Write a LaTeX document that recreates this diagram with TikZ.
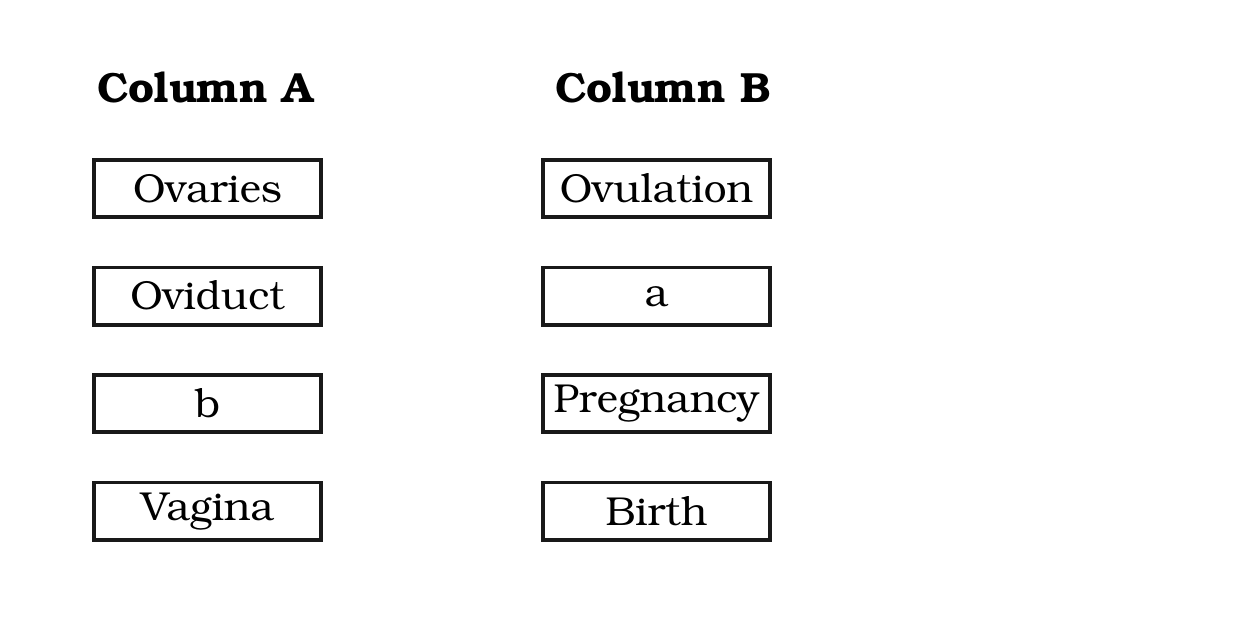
\documentclass[tikz,border=0pt]{standalone}
\usepackage[T1]{fontenc}
\usepackage{bookman}
\usetikzlibrary{positioning}

\begin{document}
\begin{tikzpicture} [
    line width=0.075cm,
    node distance=0.93cm and 4.36cm,
  ]

  \tikzstyle{itembox} = [
    rectangle,
    draw=black!90,
    minimum width=4.545cm,
    minimum height=1.145cm,
    inner sep=0pt,
    font=\fontsize{23}{28}\selectfont,
  ]
  \tikzstyle{colhead} = [
    font=\fontsize{24}{28}\selectfont\bfseries,
    inner sep=0pt,
  ]

  \useasboundingbox (0,0) rectangle (24.8,-12.4);

  \node[itembox] at (4.15,-3.77) (ovaries)  {Ovaries};
  \node[itembox,below=of ovaries]  (oviduct) {Oviduct};
  \node[itembox,below=of oviduct]  (blankb)  {b};
  \node[itembox,below=of blankb]   (vagina)  {Vagina};

  \node[itembox,right=of ovaries]  (ovulation) {Ovulation};
  \node[itembox,right=of oviduct]  (blanka)    {a};
  \node[itembox,right=of blankb]   (pregnancy) {Pregnancy};
  \node[itembox,right=of vagina]   (birth)     {Birth};

  \node[colhead] at (4.1,-1.76)  (heada) {Column A};
  \node[colhead] at (13.26,-1.76) (headb) {Column B};

\end{tikzpicture}
\end{document}
